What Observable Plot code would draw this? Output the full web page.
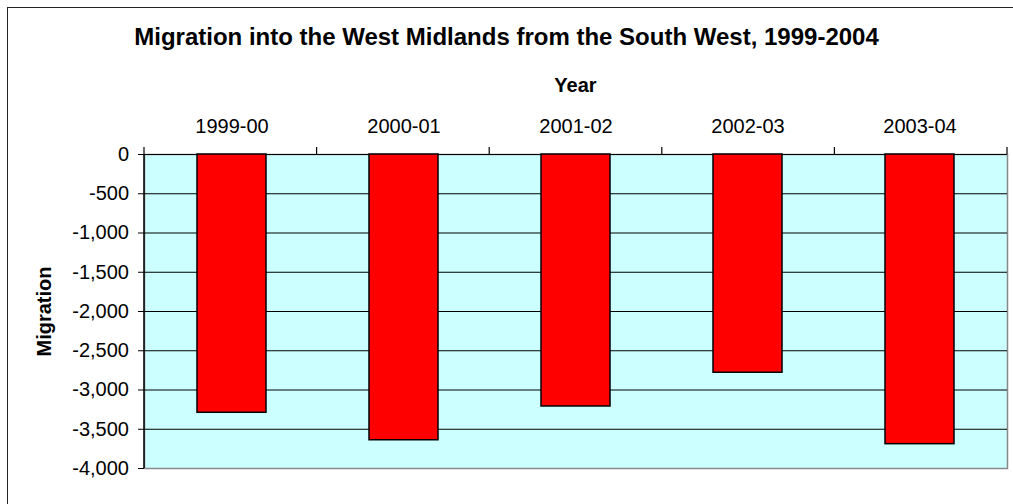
<!DOCTYPE html>
<html>
<head>
<meta charset="utf-8">
<script src="https://cdn.jsdelivr.net/npm/d3@7"></script>
<script src="https://cdn.jsdelivr.net/npm/@observablehq/plot@0.6"></script>
<style>
  body { margin: 0; background: #fff; width: 1013px; height: 504px; overflow: hidden; position: relative; font-family: "Liberation Sans", Arial, sans-serif; }
  #outer { position: absolute; left: 7px; top: 7px; width: 1100px; height: 600px; border: 1.5px solid #222; box-sizing: border-box; }
  #title { position: absolute; left: 0; top: 25px; width: 1013px; text-align: center; font-weight: bold; font-size: 24px; line-height: 24px; color: #000; }
  #xlabel { position: absolute; left: 144px; top: 75px; width: 863px; text-align: center; font-weight: bold; font-size: 20px; line-height: 20px; color: #000; }
  #chart { position: absolute; left: 0; top: 100px; }
</style>
</head>
<body>
<div id="outer"></div>
<div id="title">Migration into the West Midlands from the South West, 1999-2004</div>
<div id="xlabel">Year</div>
<div id="chart"></div>
<script>
const years = ["1999-00", "2000-01", "2001-02", "2002-03", "2003-04"];
const migration = [-3290, -3640, -3210, -2780, -3690];
const yTicks = [0, -500, -1000, -1500, -2000, -2500, -3000, -3500, -4000];
const yLabel = "Migration";

const data = years.map((year, i) => ({year, value: migration[i]}));
const fmt = d => d.toLocaleString("en-US");

// Category boundary ticks + left axis line, derived from the plot dimensions
function boundaryTicks(index, scales, values, dims) {
  const g = d3.create("svg:g");
  const left = dims.marginLeft, right = dims.width - dims.marginRight;
  const top = dims.marginTop, bottom = dims.height - dims.marginBottom;
  const n = years.length, step = (right - left) / n;
  for (let i = 0; i <= n; i++) {
    const bx = left + i * step;
    g.append("line").attr("x1", bx).attr("x2", bx).attr("y1", top - 7).attr("y2", top)
      .attr("stroke", "black").attr("stroke-width", 1.2);
  }
  g.append("line").attr("x1", left).attr("x2", left).attr("y1", top).attr("y2", bottom)
    .attr("stroke", "black").attr("stroke-width", 1.5);
  return g.node();
}

const chart = Plot.plot({
  width: 1013,
  height: 404,
  marginLeft: 144,
  marginRight: 6,
  marginTop: 54,
  marginBottom: 36,
  style: { fontFamily: "'Liberation Sans', Arial, sans-serif", fontSize: "20px", color: "black", background: "transparent", overflow: "visible" },
  x: { domain: years, paddingInner: 0.6, paddingOuter: 0.3, axis: null },
  y: { domain: [-4000, 0], axis: null },
  marks: [
    Plot.frame({ fill: "#CCFFFF", stroke: "#888", strokeWidth: 1.5 }),
    Plot.ruleY(yTicks.filter(v => v > -4000), { stroke: "black", strokeWidth: 1.2 }),
    Plot.barY(data, { x: "year", y: "value", fill: "#FF0000", stroke: "black", strokeWidth: 1.5 }),
    Plot.axisX({ anchor: "top", tickSize: 0, tickPadding: 22, fontSize: 20, label: null }),
    Plot.axisY({ anchor: "left", ticks: yTicks, tickSize: 6, tickPadding: 9.5, tickFormat: fmt, fontSize: 20, label: null }),
    Plot.text([yLabel], { frameAnchor: "left", textAnchor: "middle", text: d => d, rotate: -90, dx: -100, fontWeight: "bold", fontSize: 20 }),
    boundaryTicks
  ]
});
document.getElementById("chart").append(chart);
</script>
</body>
</html>
